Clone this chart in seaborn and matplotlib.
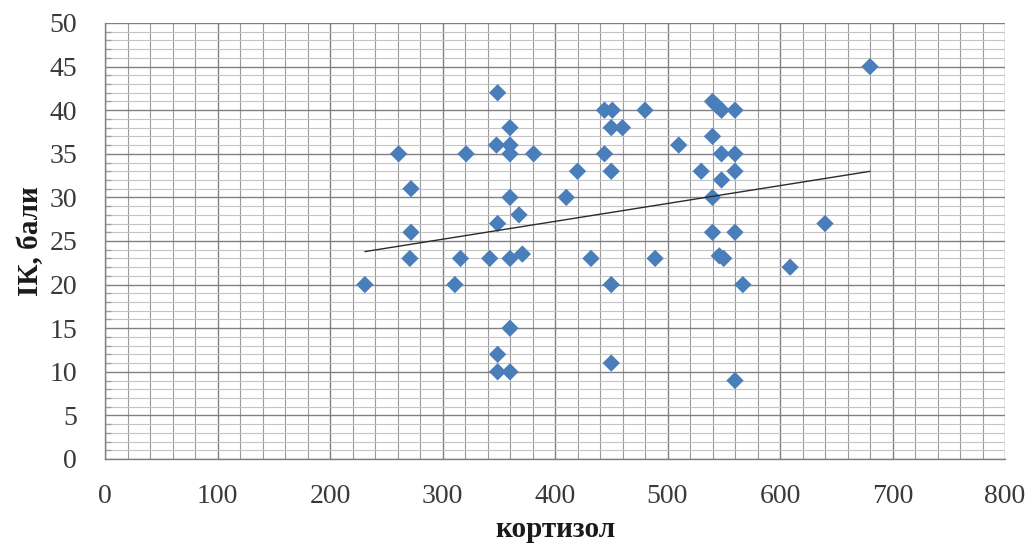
import numpy as np
import pandas as pd
import matplotlib
matplotlib.use("Agg")
import matplotlib.pyplot as plt
from matplotlib.ticker import MultipleLocator
import seaborn as sns

# cortisol level vs IK score
cortisol = [231, 261, 272, 272, 271, 321, 311, 316, 342,
            349, 348, 349, 349, 349,
            360, 360, 360, 360, 360, 360, 360,
            368, 371, 381, 410, 420, 432,
            444, 444, 451, 450, 460, 450, 450, 450,
            480, 489, 510, 530,
            540, 544, 548, 560, 540, 548, 560, 560, 548, 540, 540, 560,
            546, 550, 567, 560, 609, 640, 680]
ik_score = [20, 35, 31, 26, 23, 35, 20, 23, 23,
            42, 36, 27, 12, 10,
            38, 36, 35, 30, 23, 15, 10,
            28, 23.5, 35, 30, 33, 23,
            35, 40, 40, 38, 38, 33, 20, 11,
            40, 23, 36, 33,
            41, 40.5, 40, 40, 37, 35, 35, 33, 32, 30, 26, 26,
            23.3, 23, 20, 9, 22, 27, 45]

# linear trend of the full sample
trend_slope = 0.0205
trend_intercept = 19.05

x_ticks = [0, 100, 200, 300, 400, 500, 600, 700, 800]
y_ticks = [0, 5, 10, 15, 20, 25, 30, 35, 40, 45, 50]
x_label = "кортизол"
y_label = "ІК, бали"

df = pd.DataFrame({"cortisol": cortisol, "ik": ik_score})
trend_x = np.array([min(cortisol), max(cortisol)])
trend = pd.DataFrame({"cortisol": trend_x,
                      "ik": trend_intercept + trend_slope * trend_x})

sns.set_theme(style="white")
plt.rcParams["font.family"] = ["Liberation Serif", "DejaVu Serif"]

fig = plt.figure(figsize=(10.35, 5.52), dpi=100)
ax = fig.add_axes([105 / 1035, 1 - 459 / 552, 900 / 1035, 436 / 552])

# grid: minor every 20 / 1, major every 100 / 5
ax.xaxis.set_minor_locator(MultipleLocator(20))
ax.yaxis.set_minor_locator(MultipleLocator(1))
ax.set_xticks(x_ticks)
ax.set_yticks(y_ticks)
ax.grid(which="major", axis="both", color="#808080", linewidth=1.0)
ax.grid(which="minor", axis="x", color="#9a9a9a", linewidth=0.8)
ax.grid(which="minor", axis="y", color="#c4c4c4", linewidth=0.8)
ax.set_axisbelow(True)

sns.scatterplot(data=df, x="cortisol", y="ik", marker="D", s=78,
                color="#4a7ebb", edgecolor="none", ax=ax, zorder=3)
sns.lineplot(data=trend, x="cortisol", y="ik", color="#2b2b2b",
             linewidth=1.0, ax=ax, zorder=4)

ax.set_xlim(0, 800)
ax.set_ylim(0, 50)

for side in ["top", "right"]:
    ax.spines[side].set_visible(False)
for side in ["left", "bottom"]:
    ax.spines[side].set_color("#808080")
    ax.spines[side].set_linewidth(1.0)

ax.tick_params(axis="both", which="major", direction="out", length=8,
               color="#808080", width=1.0, labelsize=20, labelcolor="#3a3a3a")
ax.tick_params(axis="x", which="major", pad=10)
ax.tick_params(axis="y", which="major", pad=12)
ax.tick_params(axis="y", which="minor", direction="in", length=4,
               color="#a0a0a0", left=True)
ax.tick_params(axis="x", which="minor", length=0)

ax.set_xlabel(x_label, fontsize=21, fontweight="bold", color="#1a1a1a",
              labelpad=5)
ax.set_ylabel(y_label, fontsize=21, fontweight="bold", color="#1a1a1a",
              labelpad=4)

fig.savefig("out.png", dpi=100)
